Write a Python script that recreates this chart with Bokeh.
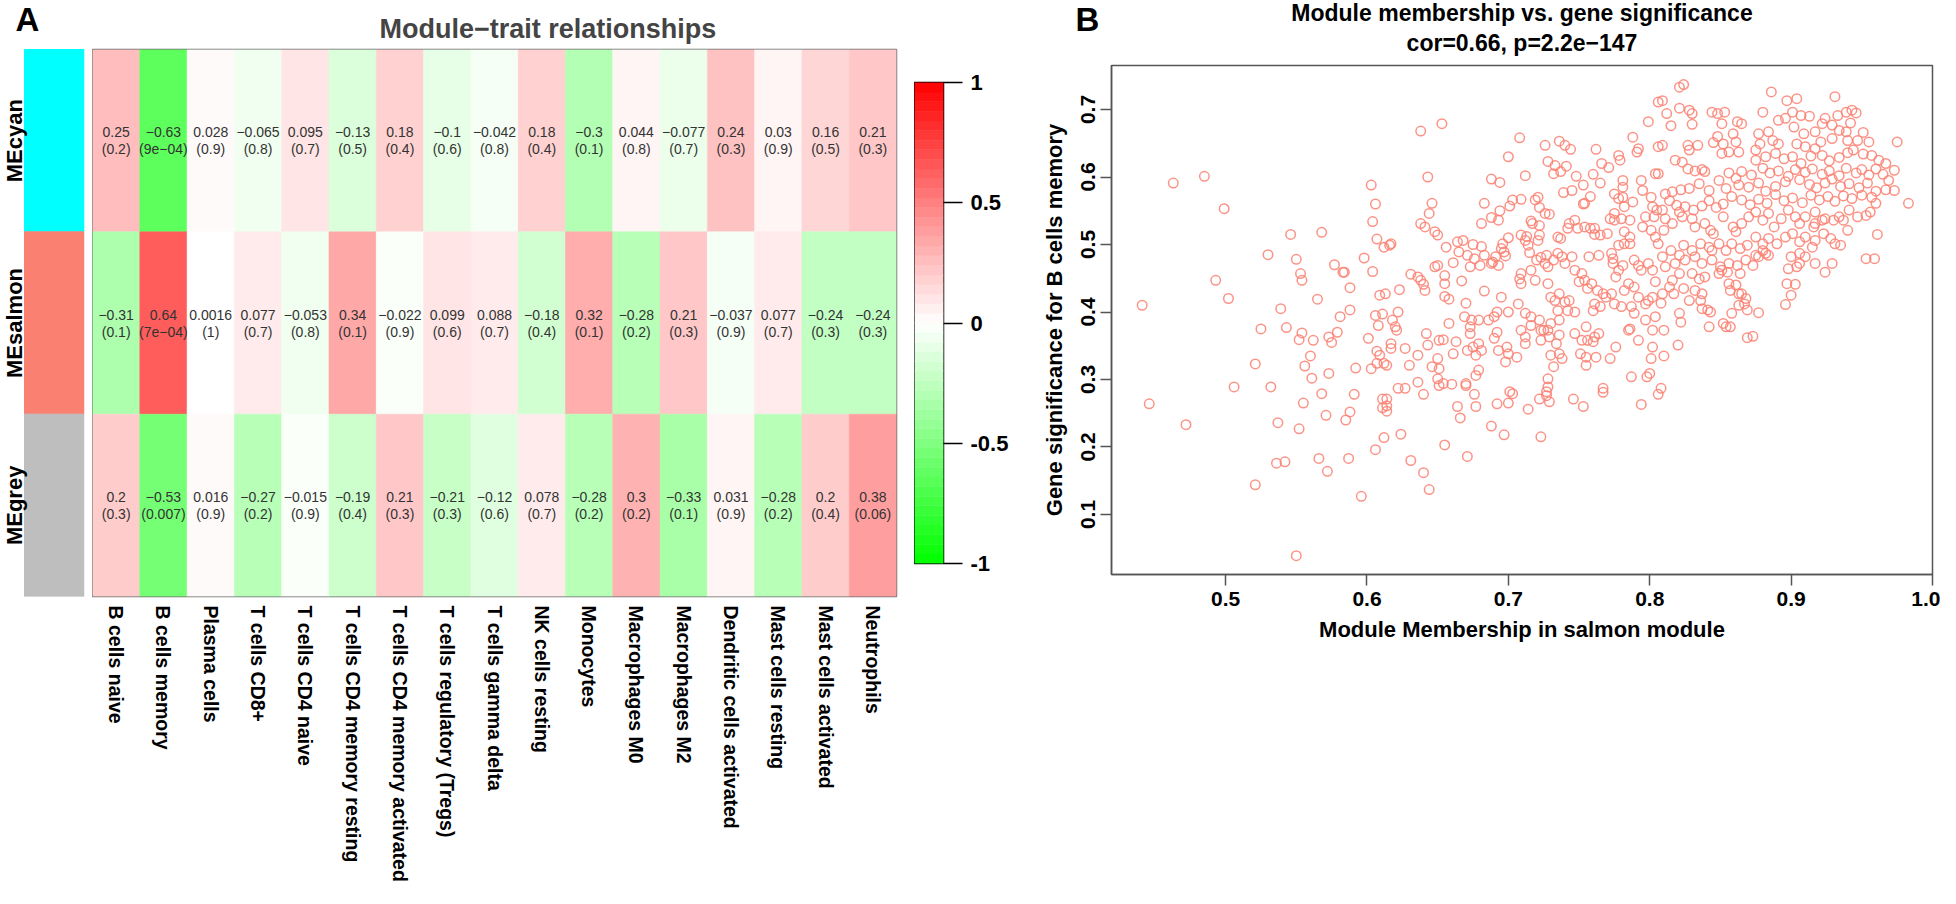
import numpy as np
from bokeh.plotting import figure
from bokeh.layouts import row, column
from bokeh.models import (ColumnDataSource, Range1d, FactorRange, FixedTicker,
                          LinearColorMapper, PrintfTickFormatter)
from bokeh.transform import transform
from bokeh.core.properties import value
from bokeh.embed import file_html
from bokeh.resources import INLINE

FONT = "Liberation Sans"

# ---------------- Panel A data ----------------
modules = ["MEcyan", "MEsalmon", "MEgrey"]
module_colors = ["#00FFFF", "#FA8072", "#BEBEBE"]
traits = ["B cells naive", "B cells memory", "Plasma cells", "T cells CD8+",
          "T cells CD4 naive", "T cells CD4 memory resting",
          "T cells CD4 memory activated", "T cells regulatory (Tregs)",
          "T cells gamma delta", "NK cells resting", "Monocytes",
          "Macrophages M0", "Macrophages M2", "Dendritic cells activated",
          "Mast cells resting", "Mast cells activated", "Neutrophils"]
cor_cyan = [0.25, -0.63, 0.028, -0.065, 0.095, -0.13, 0.18, -0.1, -0.042,
            0.18, -0.3, 0.044, -0.077, 0.24, 0.03, 0.16, 0.21]
p_cyan = ["0.2", "9e−04", "0.9", "0.8", "0.7", "0.5", "0.4", "0.6", "0.8",
          "0.4", "0.1", "0.8", "0.7", "0.3", "0.9", "0.5", "0.3"]
cor_salmon = [-0.31, 0.64, 0.0016, 0.077, -0.053, 0.34, -0.022, 0.099, 0.088,
              -0.18, 0.32, -0.28, 0.21, -0.037, 0.077, -0.24, -0.24]
p_salmon = ["0.1", "7e−04", "1", "0.7", "0.8", "0.1", "0.9", "0.6", "0.7",
            "0.4", "0.1", "0.2", "0.3", "0.9", "0.7", "0.3", "0.3"]
cor_grey = [0.2, -0.53, 0.016, -0.27, -0.015, -0.19, 0.21, -0.21, -0.12,
            0.078, -0.28, 0.3, -0.33, 0.031, -0.28, 0.2, 0.38]
p_grey = ["0.3", "0.007", "0.9", "0.2", "0.9", "0.4", "0.3", "0.3", "0.6",
          "0.7", "0.2", "0.2", "0.1", "0.9", "0.2", "0.4", "0.06"]
cbar_ticks = [-1, -0.5, 0, 0.5, 1]
cbar_labels = ["-1", "-0.5", "0", "0.5", "1"]

# ---------------- Panel B data ----------------
scatter_titles = ["Module membership vs. gene significance",
                  "cor=0.66, p=2.2e\u2212147"]
mm_a = [0.463,0.485,0.499,0.546,0.568,0.530,0.550,0.553,0.554,0.577,
        0.583,0.584,0.588,0.493,0.502,0.441,0.565,0.539,0.588,0.581,
        0.525,0.543,0.554,0.552,0.562,0.573,0.575,0.579,0.560,0.556,
        0.561,0.573,0.592,0.603,0.521,0.506,0.532,0.568,0.591,0.603,
        0.606,0.604,0.607,0.612,0.598,0.604,0.609,0.606,0.611,0.608,
        0.601,0.607,0.609,0.607,0.612]
gs_a = [0.591,0.601,0.553,0.515,0.518,0.485,0.478,0.457,0.447,0.470,
        0.459,0.459,0.436,0.447,0.420,0.410,0.419,0.405,0.403,0.393,
        0.375,0.377,0.369,0.359,0.358,0.363,0.355,0.370,0.335,0.320,
        0.302,0.309,0.317,0.316,0.323,0.289,0.289,0.279,0.278,0.588,
        0.560,0.534,0.508,0.496,0.480,0.460,0.425,0.395,0.397,0.380,
        0.361,0.342,0.336,0.324,0.324]
mm_b = [0.446,0.472,0.537,0.555,0.552,0.571,0.585,0.588,0.611,0.611,
        0.612,0.536,0.542,0.566,0.572,0.587,0.606,0.521,0.596,0.550]
gs_b = [0.264,0.233,0.236,0.265,0.227,0.247,0.240,0.252,0.271,0.258,
        0.214,0.176,0.178,0.183,0.164,0.183,0.196,0.144,0.127,0.039]
mm_c = [0.614,0.614,0.614,0.624,0.631,0.640,0.644,0.655,0.664,0.666,
        0.671,0.677,0.676,0.688,0.692,0.697,0.700,0.722,0.714,0.723,
        0.727,0.729,0.746,0.753,0.767,0.794,0.640,0.806,0.810,0.820,
        0.808,0.869,0.873]
gs_c = [0.271,0.261,0.253,0.219,0.180,0.162,0.137,0.203,0.260,0.243,
        0.186,0.260,0.278,0.231,0.264,0.218,0.265,0.271,0.256,0.215,
        0.276,0.267,0.271,0.260,0.281,0.263,0.278,0.278,0.335,0.351,
        0.287,0.362,0.364]
mm_d1 = [0.638,0.653,0.708,0.726,0.736,0.740,0.744,0.762,0.788,0.791,
         0.792,0.799,0.806,0.806,0.700,0.728,0.733,0.741,0.737,0.732,
         0.748,0.760,0.766,0.771,0.778,0.779,0.765,0.643,0.688,0.694,
         0.712,0.739,0.745,0.753,0.781,0.781,0.794,0.795,0.804,0.646,
         0.644,0.683,0.703,0.709,0.701,0.694,0.688,0.693,0.681,0.721,
         0.719,0.722,0.726,0.729,0.716,0.717,0.722,0.754,0.758,0.753,
         0.775,0.778,0.781,0.788,0.782,0.775,0.772,0.775,0.780,0.786,
         0.801,0.802,0.797,0.803,0.805,0.638,0.641,0.648,0.650,0.616,
         0.617]
gs_d1 = [0.668,0.679,0.658,0.647,0.653,0.647,0.641,0.641,0.659,0.637,
         0.642,0.682,0.711,0.645,0.630,0.623,0.617,0.616,0.608,0.605,
         0.601,0.604,0.620,0.614,0.632,0.625,0.591,0.600,0.597,0.592,
         0.602,0.577,0.580,0.588,0.595,0.585,0.595,0.580,0.605,0.561,
         0.546,0.561,0.566,0.567,0.557,0.550,0.540,0.536,0.531,0.570,
         0.566,0.555,0.546,0.545,0.535,0.531,0.528,0.561,0.571,0.560,
         0.575,0.568,0.570,0.563,0.556,0.546,0.538,0.536,0.538,0.536,
         0.570,0.556,0.541,0.541,0.551,0.531,0.526,0.519,0.514,0.499,
         0.501]
mm_d2 = [0.743,0.747,0.749,0.754,0.758,0.761,0.761,0.765,0.770,0.782,
         0.786,0.795,0.801,0.804,0.742,0.709,0.713,0.722,0.721,0.700,
         0.696,0.695,0.697,0.698,0.691,0.689,0.693,0.688,0.664,0.668,
         0.675,0.681,0.665,0.671,0.676,0.683,0.656,0.661,0.648,0.650,
         0.673,0.680,0.655,0.655,0.667,0.683,0.631,0.636,0.638,0.640,
         0.641,0.623,0.655,0.658,0.670,0.613,0.712,0.714,0.715,0.720,
         0.709,0.708,0.709,0.716,0.719,0.726,0.728,0.732,0.735,0.738,
         0.740,0.735,0.737,0.727,0.723,0.728,0.730,0.733,0.735,0.736]
gs_d2 = [0.531,0.536,0.524,0.526,0.524,0.524,0.515,0.514,0.516,0.519,
         0.511,0.526,0.521,0.511,0.524,0.514,0.512,0.514,0.506,0.510,
         0.501,0.494,0.489,0.483,0.482,0.474,0.469,0.472,0.504,0.506,
         0.500,0.497,0.489,0.484,0.479,0.484,0.496,0.473,0.467,0.469,
         0.467,0.469,0.454,0.442,0.446,0.431,0.456,0.452,0.447,0.441,
         0.432,0.433,0.423,0.419,0.413,0.427,0.506,0.499,0.488,0.477,
         0.457,0.449,0.442,0.462,0.447,0.472,0.467,0.477,0.487,0.482,
         0.472,0.511,0.509,0.484,0.481,0.442,0.422,0.417,0.402,0.427]
mm_d3 = [0.745,0.747,0.752,0.754,0.759,0.750,0.756,0.763,0.767,0.764,
         0.757,0.773,0.774,0.774,0.778,0.776,0.781,0.789,0.792,0.794,
         0.799,0.802,0.804,0.806,0.778,0.782,0.786,0.785,0.782,0.773,
         0.769,0.775,0.780,0.787,0.789,0.792,0.799,0.802,0.797,0.761,
         0.765,0.760,0.740,0.742,0.747,0.736,0.730,0.743,0.707,0.695,
         0.700,0.712,0.716,0.716,0.709,0.722,0.723,0.728,0.692,0.690,
         0.686,0.679,0.674,0.669,0.673,0.673,0.679,0.675,0.671,0.681,
         0.677,0.679,0.677,0.670,0.663,0.661,0.651,0.654,0.642,0.643]
gs_d3 = [0.482,0.462,0.457,0.447,0.442,0.445,0.435,0.432,0.427,0.484,
         0.482,0.487,0.479,0.472,0.462,0.452,0.469,0.477,0.469,0.462,
         0.472,0.462,0.445,0.501,0.499,0.501,0.501,0.442,0.432,0.427,
         0.422,0.412,0.408,0.408,0.437,0.422,0.417,0.422,0.412,0.412,
         0.408,0.402,0.415,0.402,0.400,0.388,0.383,0.417,0.412,0.422,
         0.400,0.398,0.393,0.380,0.373,0.388,0.373,0.373,0.400,0.393,
         0.388,0.388,0.388,0.393,0.378,0.368,0.353,0.348,0.343,0.343,
         0.336,0.314,0.306,0.294,0.356,0.338,0.358,0.359,0.368,0.351]
mm_d4 = [0.636,0.627,0.630,0.622,0.618,0.620,0.621,0.617,0.617,0.614,
         0.658,0.650,0.646,0.651,0.650,0.651,0.636,0.660,0.622,0.627,
         0.692,0.690,0.693,0.699,0.700,0.698,0.706,0.712,0.712,0.725,
         0.723,0.729,0.734,0.736,0.736,0.730,0.738,0.732,0.728,0.728,
         0.727,0.747,0.752,0.755,0.756,0.761,0.764,0.760,0.751,0.755,
         0.762,0.755,0.776,0.772,0.767,0.787,0.785,0.786,0.789,0.792,
         0.802,0.802,0.801,0.798,0.800,0.797,0.804,0.703,0.701,0.670,
         0.654]
gs_d4 = [0.336,0.346,0.321,0.400,0.388,0.378,0.373,0.353,0.346,0.321,
         0.383,0.331,0.319,0.316,0.301,0.291,0.296,0.293,0.287,0.287,
         0.370,0.361,0.343,0.348,0.338,0.326,0.333,0.353,0.363,0.373,
         0.358,0.363,0.353,0.366,0.338,0.336,0.331,0.319,0.301,0.289,
         0.282,0.368,0.358,0.378,0.358,0.363,0.368,0.356,0.338,0.333,
         0.333,0.321,0.348,0.331,0.287,0.304,0.373,0.375,0.398,0.358,
         0.373,0.348,0.331,0.304,0.309,0.388,0.393,0.279,0.282,0.291,
         0.294]
mm_e1 = [0.821,0.824,0.809,0.812,0.815,0.809,0.821,0.828,0.830,0.830,
         0.844,0.848,0.853,0.851,0.862,0.865,0.859,0.848,0.845,0.852,
         0.827,0.834,0.828,0.886,0.897,0.904,0.931,0.880,0.901,0.907,
         0.913,0.891,0.896,0.924,0.933,0.939,0.943,0.946,0.922,0.929,
         0.942,0.951,0.975,0.877,0.884,0.902,0.909,0.917,0.934,0.939,
         0.955,0.947,0.940,0.929,0.921,0.917,0.904,0.910,0.887,0.891,
         0.878,0.875,0.863,0.856,0.851,0.861,0.875,0.882,0.889,0.895]
gs_e1 = [0.733,0.737,0.713,0.694,0.676,0.647,0.702,0.699,0.694,0.678,
         0.696,0.694,0.696,0.679,0.682,0.679,0.664,0.660,0.651,0.649,
         0.647,0.647,0.640,0.726,0.713,0.716,0.719,0.696,0.696,0.691,
         0.690,0.684,0.687,0.687,0.691,0.696,0.699,0.695,0.679,0.677,
         0.680,0.666,0.652,0.664,0.667,0.674,0.664,0.667,0.669,0.667,
         0.652,0.654,0.654,0.657,0.652,0.642,0.649,0.645,0.654,0.649,
         0.649,0.640,0.637,0.637,0.635,0.652,0.625,0.630,0.635,0.627]
mm_e2 = [0.901,0.907,0.914,0.922,0.927,0.934,0.940,0.944,0.951,0.957,
         0.962,0.967,0.973,0.973,0.983,0.969,0.965,0.960,0.955,0.950,
         0.946,0.939,0.934,0.927,0.922,0.915,0.910,0.903,0.898,0.891,
         0.885,0.880,0.872,0.865,0.861,0.856,0.849,0.839,0.837,0.832,
         0.827,0.818,0.823,0.806,0.811,0.816,0.822,0.828,0.835,0.842,
         0.854,0.863,0.870,0.877,0.882,0.889,0.896,0.906,0.913,0.918,
         0.924,0.929,0.935,0.941,0.948,0.954,0.960,0.967,0.957,0.950]
gs_e2 = [0.630,0.620,0.631,0.632,0.624,0.629,0.636,0.640,0.634,0.632,
         0.625,0.620,0.610,0.580,0.561,0.595,0.604,0.612,0.603,0.611,
         0.606,0.613,0.602,0.609,0.604,0.612,0.607,0.611,0.601,0.609,
         0.606,0.613,0.603,0.608,0.598,0.606,0.595,0.608,0.611,0.609,
         0.612,0.625,0.622,0.605,0.575,0.578,0.581,0.583,0.590,0.580,
         0.583,0.588,0.585,0.591,0.579,0.586,0.593,0.596,0.589,0.584,
         0.591,0.597,0.586,0.590,0.584,0.591,0.579,0.581,0.570,0.573]
mm_e3 = [0.943,0.937,0.931,0.926,0.920,0.914,0.908,0.901,0.895,0.889,
         0.883,0.877,0.871,0.865,0.858,0.852,0.847,0.842,0.837,0.831,
         0.825,0.819,0.814,0.809,0.821,0.823,0.816,0.810,0.811,0.830,
         0.832,0.839,0.843,0.845,0.852,0.859,0.861,0.865,0.870,0.875,
         0.880,0.884,0.888,0.893,0.898,0.903,0.906,0.910,0.916,0.917,
         0.924,0.930,0.934,0.941,0.947,0.953,0.956,0.960,0.940,0.961,
         0.953,0.959,0.923,0.928,0.931,0.935,0.917,0.910,0.906,0.901]
gs_e3 = [0.568,0.572,0.564,0.571,0.566,0.573,0.562,0.569,0.565,0.574,
         0.561,0.567,0.559,0.566,0.571,0.560,0.555,0.565,0.557,0.551,
         0.556,0.558,0.565,0.551,0.548,0.541,0.531,0.521,0.538,0.538,
         0.526,0.531,0.521,0.516,0.541,0.526,0.519,0.531,0.541,0.548,
         0.536,0.546,0.526,0.538,0.551,0.541,0.531,0.541,0.526,0.548,
         0.538,0.536,0.541,0.551,0.541,0.543,0.548,0.561,0.521,0.515,
         0.479,0.479,0.516,0.509,0.501,0.499,0.506,0.511,0.504,0.516]
mm_e4 = [0.896,0.890,0.884,0.880,0.875,0.869,0.864,0.858,0.854,0.849,
         0.842,0.836,0.830,0.824,0.821,0.815,0.809,0.811,0.818,0.825,
         0.832,0.837,0.844,0.850,0.856,0.862,0.868,0.875,0.882,0.900,
         0.906,0.910,0.906,0.898,0.904,0.917,0.929,0.924,0.897,0.903,
         0.900,0.896,0.839,0.835,0.830,0.821,0.816,0.814,0.809,0.817,
         0.824,0.832,0.837,0.828,0.836,0.841,0.843,0.837,0.821,0.822,
         0.808,0.810,0.842,0.852,0.854,0.857,0.858,0.856,0.857,0.861,
         0.863,0.865,0.868,0.867,0.863,0.869,0.877,0.864,0.855,0.849,
         0.851,0.844,0.873,0.877,0.880,0.884,0.915,0.917,0.922,0.937]
gs_e4 = [0.511,0.501,0.509,0.501,0.511,0.499,0.494,0.501,0.491,0.501,
         0.496,0.501,0.491,0.499,0.484,0.491,0.482,0.467,0.472,0.477,
         0.482,0.472,0.477,0.467,0.472,0.469,0.477,0.484,0.487,0.482,
         0.487,0.482,0.472,0.464,0.467,0.472,0.472,0.459,0.442,0.441,
         0.425,0.411,0.452,0.449,0.457,0.457,0.447,0.437,0.427,0.427,
         0.435,0.432,0.427,0.417,0.417,0.403,0.400,0.405,0.398,0.385,
         0.413,0.373,0.378,0.383,0.378,0.378,0.398,0.442,0.432,0.440,
         0.427,0.427,0.420,0.412,0.410,0.403,0.399,0.457,0.459,0.457,
         0.462,0.491,0.469,0.482,0.491,0.484,0.496,0.531,0.536,0.536]
x_ticks = [0.5, 0.6, 0.7, 0.8, 0.9, 1.0]
y_ticks = [0.1, 0.2, 0.3, 0.4, 0.5, 0.6, 0.7]

membership = (mm_a + mm_b + mm_c + mm_d1 + mm_d2 + mm_d3 + mm_d4 +
              mm_e1 + mm_e2 + mm_e3 + mm_e4)
significance = (gs_a + gs_b + gs_c + gs_d1 + gs_d2 + gs_d3 + gs_d4 +
                gs_e1 + gs_e2 + gs_e3 + gs_e4)

# ---------------- colour mapping (green - white - red) ----------------
def _rgb(v):
    if v < 0:
        c = int(round(255 * (1 + v)))
        return "#%02x%02x%02x" % (c, 255, c)
    c = int(round(255 * (1 - v)))
    return "#%02x%02x%02x" % (255, c, c)

palette = [_rgb(v) for v in np.linspace(-1, 1, 101)]
mapper = LinearColorMapper(palette=palette, low=-1, high=1)

def fmt(v):
    return str(v).replace("-", "\u2212")

COMMON = dict(output_backend="svg", toolbar_location=None, frame_align=False)

# ---------------- bar figure (module colours + row labels) ----------------
ROW_PX = 547 / 3.0
HEADER = 49 / ROW_PX
bar = figure(width=92, height=888, x_range=Range1d(0, 84),
             y_range=Range1d(0, 3 + HEADER), title=None,
             min_border_left=0, min_border_right=8, min_border_top=0,
             min_border_bottom=292, **COMMON)
row_idx = [2, 1, 0]
bsrc = ColumnDataSource(dict(bottom=row_idx, top=[i + 1 for i in row_idx],
                             mid=[i + 0.5 for i in row_idx],
                             color=module_colors, name=modules))
bar.quad(left=24, right=83.5, bottom="bottom", top="top", fill_color="color",
         line_color="color", source=bsrc)
bar.text(x=14, y="mid", text="name", angle=np.pi / 2, source=bsrc,
         text_align="center", text_baseline="middle", text_font=value(FONT),
         text_font_style="bold", text_font_size="22px", text_color="black")
bar.text(x=[15], y=[3 + HEADER], text=["A"], text_align="left",
         text_baseline="top", text_font=value(FONT), text_font_style="bold",
         text_font_size="33px", text_color="black")
bar.axis.visible = False
bar.grid.visible = False
bar.outline_line_color = None

# ---------------- heatmap ----------------
xs, ys, cors, ctxt, ptxt = [], [], [], [], []
for m, cl, pl in zip(modules, [cor_cyan, cor_salmon, cor_grey],
                     [p_cyan, p_salmon, p_grey]):
    for t, c, pv in zip(traits, cl, pl):
        xs.append(t); ys.append(m); cors.append(c)
        ctxt.append(fmt(c)); ptxt.append("(" + pv + ")")
hsrc = ColumnDataSource(dict(trait=xs, module=ys, cor=cors, ctxt=ctxt, ptxt=ptxt))

heat = figure(width=822, height=888, x_range=FactorRange(factors=traits),
              y_range=FactorRange(factors=modules[::-1]),
              title="Module\u2212trait relationships",
              min_border_left=0, min_border_right=18, min_border_top=49,
              min_border_bottom=292, **COMMON)
heat.rect(x="trait", y="module", width=1, height=1, source=hsrc,
          fill_color=transform("cor", mapper),
          line_color=transform("cor", mapper), line_width=0.5)
for txt, off in (("ctxt", -8.5), ("ptxt", 8.5)):
    heat.text(x="trait", y="module", text=txt, source=hsrc, y_offset=off,
              text_align="center", text_baseline="middle",
              text_font=value(FONT), text_font_size="14px",
              text_color="#333333")
heat.yaxis.visible = False
xa = heat.xaxis[0]
xa.major_label_orientation = "vertical"
xa.major_label_text_font = FONT
xa.major_label_text_font_style = "bold"
xa.major_label_text_font_size = "19.5px"
xa.major_label_text_color = "black"
xa.axis_line_color = None
xa.major_tick_line_color = None
xa.minor_tick_line_color = None
xa.major_tick_out = 0
xa.major_tick_in = 0
xa.major_label_standoff = 9
heat.grid.visible = False
heat.outline_line_color = "#707070"
heat.outline_line_width = 1.5
heat.title.align = "left"
heat.title.offset = 287
heat.title.text_font = FONT
heat.title.text_font_size = "27px"
heat.title.text_font_style = "bold"
heat.title.standoff = 12

# ---------------- colour bar ----------------
edges = np.linspace(-1, 1, 51)
csrc = ColumnDataSource(dict(bottom=edges[:-1], top=edges[1:],
                             mid=(edges[:-1] + edges[1:]) / 2))
cb = figure(width=108, height=888, x_range=Range1d(0, 1), y_range=Range1d(-1, 1),
            y_axis_location="right", title=None,
            min_border_left=0, min_border_right=79,
            min_border_top=82, min_border_bottom=325, **COMMON)
cb.quad(left=0, right=1, bottom="bottom", top="top", source=csrc,
        fill_color=transform("mid", mapper), line_color=transform("mid", mapper),
        line_width=0.5)
cb.xaxis.visible = False
cb.grid.visible = False
ca = cb.yaxis[0]
ca.ticker = FixedTicker(ticks=cbar_ticks)
ca.major_label_overrides = {t: l for t, l in zip(cbar_ticks, cbar_labels)}
ca.major_tick_out = 19
ca.major_tick_in = 0
ca.major_tick_line_color = "black"
ca.major_tick_line_width = 1.5
ca.minor_tick_line_color = None
ca.axis_line_color = None
ca.major_label_standoff = 8
ca.major_label_text_font = FONT
ca.major_label_text_font_style = "bold"
ca.major_label_text_font_size = "22px"
ca.major_label_text_color = "black"
cb.outline_line_color = "black"
cb.outline_line_width = 1.5

# ---------------- panel B header (letter + two title lines) ----------------
HEAD_H = 63
hdr = figure(width=918, height=HEAD_H, x_range=Range1d(0, 918),
             y_range=Range1d(0, HEAD_H), title=None,
             min_border_left=0, min_border_right=0, min_border_top=0,
             min_border_bottom=0, **COMMON)
hdr.axis.visible = False
hdr.grid.visible = False
hdr.outline_line_color = None
hdr.text(x=[53], y=[HEAD_H], text=["B"], text_align="left",
         text_baseline="top", text_font=value(FONT), text_font_style="bold",
         text_font_size="33px", text_color="black")
frame_center = 89 + 821 / 2.0
hdr.text(x=[frame_center, frame_center], y=[HEAD_H - 12, HEAD_H - 42],
         text=scatter_titles, text_align="center", text_baseline="middle",
         text_font=value(FONT), text_font_style="bold",
         text_font_size="23px", text_color="black")

# ---------------- scatter ----------------
X0, X1, Y0, Y1 = 0.4193, 1.0, 0.0111, 0.7652
sc = figure(width=918, height=888 - HEAD_H, x_range=Range1d(X0, X1),
            y_range=Range1d(Y0, Y1), title=None,
            min_border_left=89, min_border_right=8, min_border_top=2,
            min_border_bottom=888 - HEAD_H - 2 - 509, **COMMON)
sc.scatter(x=membership, y=significance, marker="circle", size=9.5,
           fill_color=None, line_color="#FA8072", line_width=1.5,
           line_alpha=0.85)
sc.grid.visible = False
sc.outline_line_color = "#555555"
sc.outline_line_width = 1.5
sc.xaxis.ticker = FixedTicker(ticks=x_ticks)
sc.yaxis.ticker = FixedTicker(ticks=y_ticks)
sc.xaxis.formatter = PrintfTickFormatter(format="%.1f")
sc.yaxis.formatter = PrintfTickFormatter(format="%.1f")
sc.yaxis.major_label_orientation = "vertical"
for ax in (sc.xaxis[0], sc.yaxis[0]):
    ax.axis_line_color = "#555555"
    ax.axis_line_width = 1.5
    ax.major_tick_line_color = "#555555"
    ax.major_tick_line_width = 1.5
    ax.major_tick_out = 11
    ax.major_tick_in = 0
    ax.minor_tick_line_color = None
    ax.major_label_text_font = FONT
    ax.major_label_text_font_style = "bold"
    ax.major_label_text_font_size = "21px"
    ax.major_label_text_color = "black"
    ax.axis_label_text_font = FONT
    ax.axis_label_text_font_style = "bold"
    ax.axis_label_text_font_size = "22px"
    ax.axis_label_text_color = "black"
sc.xaxis.axis_label = "Module Membership in salmon module"
sc.yaxis.axis_label = "Gene significance for B cells memory"
sc.xaxis.major_label_standoff = 6
sc.xaxis.axis_label_standoff = 8
sc.yaxis.major_label_standoff = 5
sc.yaxis.axis_label_standoff = 12

layout = row(bar, heat, cb, column(hdr, sc))
open("out.html", "w").write(file_html(layout, INLINE))
